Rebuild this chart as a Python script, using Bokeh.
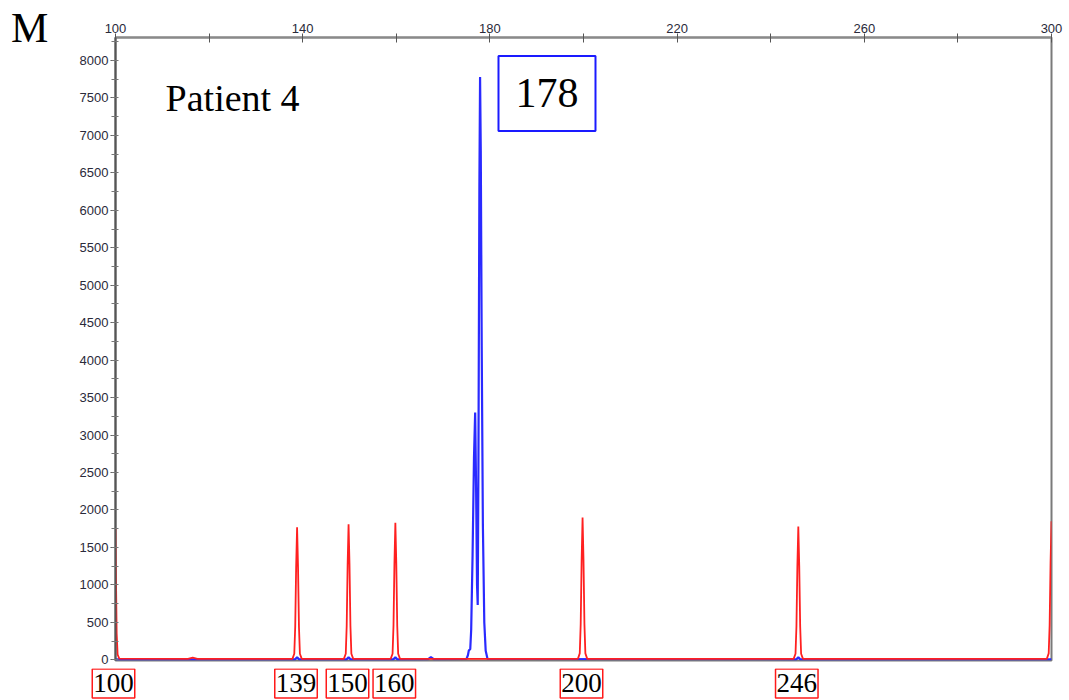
from bokeh.plotting import figure
from bokeh.models import Range1d, FixedTicker, SingleIntervalTicker, Label, Div
from bokeh.layouts import column, row
from bokeh.embed import file_html
from bokeh.resources import INLINE

# ---- data ----
panel_letter = "M"
sample_name = "Patient 4"
peak_call = "178"
size_labels = [100, 139, 150, 160, 200, 246]
top_ticks = [100, 140, 180, 220, 260, 300]
top_minor = [120, 160, 200, 240, 280]

# size-standard trace (red)
red_x = [100.0, 100.1, 100.25, 100.45, 100.8, 115.5, 116.5, 117.5,
         137.8, 138.2, 138.4, 138.6, 138.8, 139.0, 139.2, 139.4, 139.8,
         148.8, 149.2, 149.4, 149.6, 149.8, 150.0, 150.2, 150.4, 150.8,
         158.8, 159.2, 159.4, 159.6, 159.8, 160.0, 160.2, 160.4, 160.8,
         198.8, 199.2, 199.4, 199.6, 199.8, 200.0, 200.2, 200.4, 200.8,
         244.9, 245.3, 245.5, 245.7, 245.9, 246.1, 246.3, 246.5, 246.9,
         299.0, 299.4, 299.6, 299.8, 300.0]
red_y = [1750, 1100, 350, 70, 15, 12, 28, 12,
         12, 80, 440, 1240, 1770, 1240, 440, 80, 12,
         12, 80, 450, 1270, 1810, 1270, 450, 80, 12,
         12, 80, 455, 1280, 1830, 1280, 455, 80, 12,
         12, 85, 475, 1330, 1900, 1330, 475, 85, 12,
         12, 80, 445, 1250, 1780, 1250, 445, 80, 12,
         12, 85, 460, 1300, 1850]

# sample trace (blue)
blue_x = [100.0, 138.4, 138.8, 139.2, 149.4, 149.8, 150.2, 159.4, 159.8, 160.2,
          166.8, 167.4, 168.0,
          175.0, 175.3, 175.5, 175.8, 176.0, 176.3, 176.6, 176.85, 177.05,
          177.25, 177.4, 177.55, 177.75, 177.9, 178.05, 178.25, 178.5,
          178.8, 179.1, 179.5,
          245.5, 245.9, 246.3, 300.0]
blue_y = [6, 6, 35, 6, 6, 35, 6, 6, 35, 6,
          8, 35, 8,
          12, 60, 125, 140, 400, 1400, 2700, 3300, 2300,
          1000, 730, 2600, 6300, 7780, 6800, 4200, 1800,
          500, 120, 10,
          6, 35, 6, 6]

# ---- geometry ----
TOTAL_W, TOTAL_H = 1069, 700
FRAME_L, FRAME_R, FRAME_T, FRAME_B = 115, 1051, 37, 660
LEFT_W = 50                     # narrow column holding the panel letter
MAIN_H = 668
STRIP_H = TOTAL_H - MAIN_H
X0, X1 = 100, 300
px_per_unit = (FRAME_R - FRAME_L) / (X1 - X0)

serif = "Liberation Serif"

# panel letter (plain text block to the left of the chart)
m_div = Div(text=('<div style="font-family:\'Liberation Serif\',serif;font-size:42px;'
                  'line-height:42px;color:black;margin:7px 0 0 11px;">%s</div>' % panel_letter),
            width=LEFT_W, height=MAIN_H, margin=(0, 0, 0, 0))

# main chart
p = figure(width=TOTAL_W - LEFT_W, height=MAIN_H, output_backend="svg", toolbar_location=None,
           x_range=Range1d(X0, X1), y_range=Range1d(-10, 8307),
           x_axis_location="above",
           min_border_left=FRAME_L - LEFT_W, min_border_right=TOTAL_W - FRAME_R,
           min_border_top=FRAME_T, min_border_bottom=MAIN_H - FRAME_B)
p.xgrid.visible = False
p.ygrid.visible = False
p.background_fill_color = "white"
p.border_fill_color = "white"
p.outline_line_color = "#7a7a7a"
p.outline_line_width = 2

xa = p.xaxis[0]
xa.ticker = FixedTicker(ticks=top_ticks, minor_ticks=top_minor)
xa.axis_line_color = "#8a8a8a"
xa.axis_line_width = 2
xa.major_tick_line_color = "#555555"
xa.minor_tick_line_color = "#555555"
xa.major_tick_out = 4
xa.major_tick_in = 5
xa.minor_tick_out = 4
xa.minor_tick_in = 5
xa.major_label_standoff = 1
xa.major_label_text_font = "Liberation Sans"
xa.major_label_text_font_size = "13px"
xa.major_label_text_color = "#2a2a3a"

ya = p.yaxis[0]
ya.ticker = SingleIntervalTicker(interval=500, num_minor_ticks=2)
ya.axis_line_color = "#555555"
ya.axis_line_width = 2
ya.major_tick_line_color = "#555555"
ya.minor_tick_line_color = "#777777"
ya.major_tick_out = 5
ya.major_tick_in = 2
ya.minor_tick_out = 4
ya.minor_tick_in = 3
ya.major_label_standoff = 2
ya.major_label_text_font = "Liberation Sans"
ya.major_label_text_font_size = "13px"
ya.major_label_text_color = "#2a2a3a"

p.line(blue_x, blue_y, line_color="#2a2aff", line_width=2.2)
p.line(red_x, red_y, line_color="#ff2020", line_width=1.8)

p.add_layout(Label(x=110.7, y=7499, text=sample_name, text_font=serif,
                   text_font_size="38px", text_color="black",
                   text_baseline="middle", text_align="left"))
p.add_layout(Label(x=192.2, y=7560, text=peak_call, text_font=serif,
                   text_font_size="42px", text_color="black",
                   text_baseline="middle", text_align="center",
                   border_line_color="#1a1aff", border_line_width=2,
                   padding=dict(left=17, right=17, top=23, bottom=24)))

# size-label strip under the chart, on the same horizontal scale
strip = figure(width=TOTAL_W, height=STRIP_H, output_backend="svg", toolbar_location=None,
               title=None,
               x_range=Range1d(X0 - FRAME_L / px_per_unit, X0 + (TOTAL_W - FRAME_L) / px_per_unit),
               y_range=Range1d(STRIP_H, 0),
               x_axis_location=None, y_axis_location=None,
               min_border=0, min_border_top=0, min_border_bottom=0,
               min_border_left=0, min_border_right=0)
strip.grid.visible = False
strip.outline_line_color = None
for v in size_labels:
    strip.add_layout(Label(x=v, y=15, x_offset=-2, text=str(v), text_font=serif,
                           text_font_size="27px", text_color="black",
                           text_baseline="middle", text_align="center",
                           border_line_color="#ff1a1a", border_line_width=1.5,
                           padding=dict(left=1, right=1, top=5, bottom=6)))

layout = column(row(m_div, p, spacing=0), strip, spacing=0)
open("out.html", "w").write(file_html(layout, INLINE))
